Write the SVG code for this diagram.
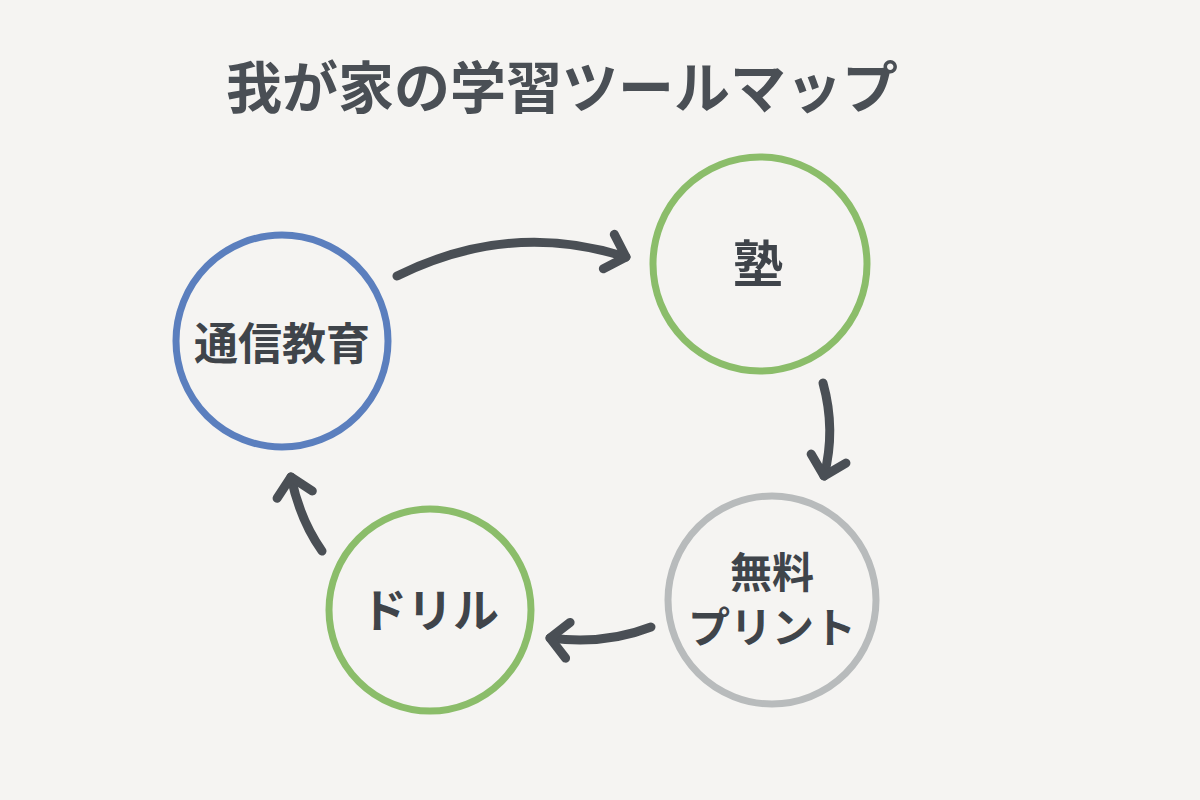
<svg xmlns="http://www.w3.org/2000/svg" width="1200" height="800" viewBox="0 0 1200 800">
<style>
.bg{fill:#f5f4f2}
.node{fill:none;stroke-width:7}
.blue{stroke:#5b7fbe}
.green{stroke:#8bbd6a}
.gray{stroke:#b8bbbc}
.lbl{font-family:"Noto Sans CJK JP","Noto Sans CJK SC",sans-serif;font-weight:700;fill:#3f444a;text-anchor:middle}
.title{font-family:"Noto Sans CJK JP","Noto Sans CJK SC",sans-serif;font-weight:700;fill:#4a4f55;font-size:56px}
.conn{fill:none;stroke:#4a4f55;stroke-width:9;stroke-linecap:round}
</style>
<defs>
<marker id="arr" markerUnits="userSpaceOnUse" markerWidth="60" markerHeight="60" refX="30" refY="30" orient="auto">
<path d="M12,12 L30,30 L12,48" fill="none" stroke="#4a4f55" stroke-width="9" stroke-linecap="round" stroke-linejoin="round"/>
</marker>
</defs>
<rect class="bg" x="0" y="0" width="1200" height="800"/>
<text class="title" x="226" y="108">我が家の学習ツールマップ</text>
<g id="connectors">
<path class="conn" d="M397,276 Q510,220 626,257" marker-end="url(#arr)"/>
<path class="conn" d="M823,383 Q836,430 824,476" marker-end="url(#arr)"/>
<path class="conn" d="M651,627 Q605,645 550,638" marker-end="url(#arr)"/>
<path class="conn" d="M322,551 Q300,520 291,477" marker-end="url(#arr)"/>
</g>
<g id="node-tsushin">
<circle class="node blue" cx="282" cy="341" r="106"/>
<text class="lbl" x="282" y="360" font-size="44">通信教育</text>
</g>
<g id="node-juku">
<circle class="node green" cx="760" cy="264" r="107"/>
<text class="lbl" x="758" y="282" font-size="50">塾</text>
</g>
<g id="node-print">
<circle class="node gray" cx="772" cy="600" r="104"/>
<text class="lbl" x="772" y="588" font-size="42">無料</text>
<text class="lbl" x="772" y="643" font-size="42">プリント</text>
</g>
<g id="node-drill">
<circle class="node green" cx="430" cy="610" r="101"/>
<text class="lbl" x="430" y="627" font-size="46">ドリル</text>
</g>
</svg>
